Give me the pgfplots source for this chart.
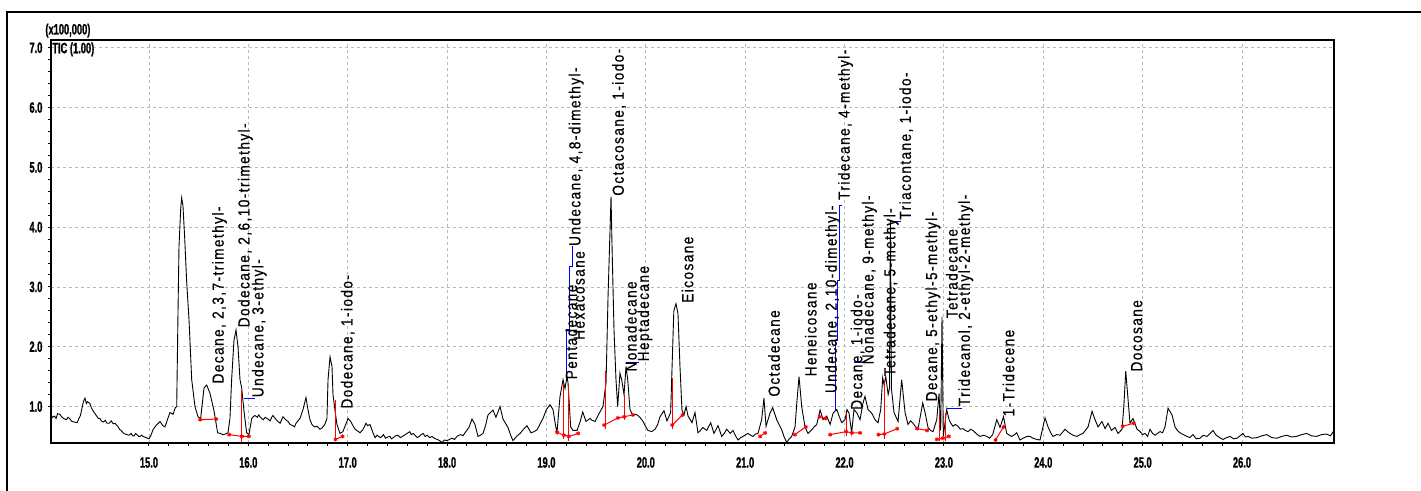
\documentclass[border=0pt]{standalone}
\usepackage{pgfplots}
\usepackage{pgfplotstable}
\pgfplotsset{compat=1.18}
\usepackage{fontspec}
\setmainfont{Liberation Sans}
\newfontfamily\tickfont[FakeStretch=0.62, FakeBold=1]{Liberation Sans}
\newfontfamily\peakfont[LetterSpace=9, FakeStretch=0.85, FakeBold=0.6]{Liberation Sans}

% TIC trace, time (min) vs intensity
\pgfplotstableread{
t      y
14.014 0.86
14.03  0.82
14.05  0.84
14.065 0.80
14.08  0.88
14.104 0.87
14.12  0.83
14.14  0.80
14.17  0.78
14.185 0.82
14.20  0.80
14.225 0.75
14.25  0.74
14.275 0.73
14.29  0.78
14.31  0.85
14.34  1.08
14.356 1.14
14.37  1.05
14.38  1.08
14.406 1.05
14.42  0.98
14.44  0.92
14.47  0.85
14.49  0.80
14.507 0.80
14.52  0.76
14.54  0.74
14.56  0.77
14.577 0.72
14.60  0.72
14.62  0.76
14.64  0.71
14.658 0.72
14.69  0.66
14.708 0.61
14.72  0.60
14.74  0.56
14.76  0.54
14.779 0.53
14.80  0.52
14.82  0.55
14.835 0.51
14.85  0.51
14.865 0.55
14.879 0.53
14.895 0.50
14.91  0.50
14.925 0.52
14.940 0.50
14.97  0.48
15.000 0.46
15.020 0.52
15.040 0.61
15.06  0.66
15.08  0.70
15.095 0.72
15.111 0.75
15.14  0.68
15.161 0.66
15.19  0.80
15.211 0.90
15.242 0.87
15.265 0.98
15.279 1.0
15.292 2.56
15.302 3.67
15.319 4.3
15.329 4.49
15.342 4.36
15.360 3.8
15.379 3.1
15.403 2.45
15.430 1.45
15.463 1.0
15.493 0.83
15.520 0.8
15.554 1.31
15.581 1.36
15.614 1.22
15.654 0.93
15.691 0.56
15.72  0.55
15.745 0.53
15.77  0.54
15.795 0.56
15.815 0.8
15.832 1.45
15.855 2.1
15.876 2.28
15.896 2.0
15.916 1.45
15.933 1.31
15.956 0.93
15.983 0.56
16.006 0.53
16.034 0.8
16.05  0.83
16.067 0.85
16.09  0.82
16.105 0.86
16.117 0.83
16.135 0.80
16.15  0.78
16.17  0.82
16.188 0.8
16.205 0.78
16.22  0.76
16.235 0.82
16.248 0.85
16.27  0.80
16.298 0.75
16.32  0.72
16.335 0.78
16.349 0.83
16.375 0.78
16.399 0.75
16.42  0.70
16.449 0.68
16.465 0.66
16.48  0.72
16.50  0.76
16.520 0.8
16.550 0.95
16.580 1.15
16.600 0.95
16.620 0.78
16.640 0.7
16.665 0.66
16.691 0.67
16.72  0.62
16.741 0.64
16.770 0.7
16.791 0.8
16.802 1.45
16.822 1.83
16.842 1.67
16.852 1.2
16.875 0.9
16.892 0.7
16.922 0.55
16.952 0.58
16.98  0.70
17.003 0.8
17.03  0.75
17.053 0.68
17.07  0.63
17.09  0.60
17.11  0.58
17.124 0.56
17.155 0.62
17.184 0.72
17.20  0.68
17.224 0.7
17.25  0.58
17.275 0.48
17.295 0.52
17.31  0.50
17.33  0.48
17.345 0.5
17.36  0.53
17.38  0.47
17.40  0.49
17.426 0.5
17.44  0.46
17.46  0.48
17.48  0.51
17.506 0.52
17.53  0.48
17.55  0.50
17.58  0.53
17.607 0.56
17.625 0.58
17.64  0.53
17.66  0.55
17.677 0.52
17.70  0.48
17.72  0.50
17.74  0.53
17.758 0.55
17.78  0.50
17.80  0.52
17.825 0.48
17.848 0.5
17.87  0.47
17.90  0.45
17.925 0.43
17.949 0.4
17.975 0.44
17.999 0.43
18.025 0.45
18.05  0.47
18.075 0.45
18.100 0.5
18.12  0.52
18.14  0.53
18.16  0.51
18.180 0.56
18.22  0.65
18.251 0.79
18.281 0.7
18.311 0.5
18.335 0.52
18.362 0.55
18.39  0.70
18.412 0.86
18.462 0.94
18.492 0.82
18.533 1.0
18.563 0.79
18.613 0.65
18.640 0.52
18.663 0.43
18.70  0.50
18.734 0.55
18.77  0.62
18.804 0.68
18.845 0.56
18.875 0.58
18.905 0.61
18.94  0.72
18.965 0.8
19.00  0.95
19.036 1.03
19.066 0.95
19.09  0.70
19.106 0.56
19.136 1.16
19.167 1.45
19.187 1.3
19.207 1.5
19.217 1.4
19.244 0.66
19.267 0.6
19.308 0.6
19.34  0.75
19.365 0.91
19.398 0.75
19.438 0.8
19.46  0.77
19.489 0.75
19.51  0.82
19.529 0.88
19.569 1.0
19.600 1.4
19.620 2.84
19.640 3.95
19.650 4.51
19.660 3.7
19.680 2.28
19.700 1.45
19.717 1.0
19.740 1.56
19.757 1.45
19.781 1.2
19.801 1.67
19.818 1.45
19.841 0.95
19.871 0.85
19.90  0.87
19.922 0.85
19.95  0.80
19.972 0.75
20.000 0.66
20.022 0.6
20.06  0.58
20.093 0.62
20.12  0.70
20.143 0.83
20.183 0.93
20.213 0.76
20.250 0.9
20.282 2.6
20.304 2.72
20.324 2.55
20.344 1.67
20.364 0.94
20.384 0.86
20.405 1.0
20.425 0.84
20.465 0.73
20.495 0.9
20.525 0.56
20.55  0.60
20.573 0.65
20.613 0.6
20.653 0.73
20.686 0.55
20.727 0.68
20.764 0.5
20.79  0.55
20.814 0.62
20.85  0.55
20.878 0.6
20.90  0.52
20.928 0.44
20.955 0.48
20.978 0.5
21.005 0.53
21.029 0.55
21.055 0.52
21.079 0.5
21.105 0.54
21.129 0.55
21.166 0.78
21.189 1.14
21.210 0.67
21.250 0.89
21.277 0.98
21.317 0.78
21.368 0.61
21.39  0.50
21.418 0.4
21.44  0.45
21.468 0.5
21.502 0.66
21.522 1.11
21.542 1.5
21.569 1.0
21.602 0.66
21.632 0.55
21.670 0.61
21.695 0.66
21.720 0.7
21.754 0.94
21.784 0.78
21.821 0.84
21.855 0.7
21.885 0.89
21.922 0.95
21.945 0.84
21.972 0.73
22.005 0.78
22.025 0.95
22.045 0.89
22.072 0.56
22.095 0.95
22.125 0.89
22.156 0.78
22.186 1.06
22.206 1.17
22.236 0.95
22.273 0.89
22.307 0.78
22.337 0.73
22.364 0.95
22.384 1.48
22.398 1.36
22.415 1.5
22.439 1.2
22.452 1.3
22.462 4.1
22.472 1.3
22.498 0.9
22.539 0.75
22.575 1.45
22.609 0.9
22.639 0.7
22.665 0.76
22.689 0.72
22.715 0.66
22.740 0.63
22.787 1.06
22.810 0.9
22.840 0.65
22.865 0.60
22.891 0.58
22.928 0.78
22.951 1.22
22.968 0.6
22.981 2.5
22.994 0.5
23.028 0.95
23.052 0.78
23.07  0.72
23.092 0.67
23.115 0.70
23.142 0.67
23.165 0.62
23.192 0.63
23.215 0.60
23.243 0.58
23.27  0.62
23.293 0.6
23.33  0.54
23.364 0.5
23.40  0.52
23.431 0.5
23.46  0.47
23.491 0.53
23.532 0.78
23.565 0.65
23.600 0.83
23.632 0.55
23.66  0.52
23.683 0.5
23.71  0.53
23.733 0.56
23.766 0.44
23.796 0.47
23.837 0.5
23.867 0.5
23.897 0.47
23.934 0.45
23.967 0.44
24.018 0.81
24.048 0.66
24.075 0.56
24.098 0.5
24.135 0.53
24.169 0.52
24.219 0.62
24.245 0.58
24.269 0.55
24.30  0.52
24.340 0.5
24.37  0.53
24.400 0.55
24.451 0.66
24.491 0.92
24.521 0.78
24.551 0.66
24.591 0.75
24.622 0.63
24.652 0.72
24.686 0.6
24.722 0.65
24.753 0.55
24.793 0.62
24.813 1.06
24.830 1.59
24.843 1.33
24.873 0.72
24.903 0.8
24.944 0.62
24.974 0.58
25.00  0.53
25.024 0.55
25.05  0.50
25.074 0.62
25.10  0.55
25.125 0.52
25.15  0.55
25.175 0.58
25.20  0.56
25.225 0.66
25.256 0.97
25.296 0.86
25.326 0.66
25.35  0.60
25.376 0.56
25.41  0.53
25.447 0.5
25.475 0.48
25.507 0.53
25.54  0.46
25.578 0.47
25.61  0.52
25.648 0.5
25.68  0.55
25.709 0.6
25.735 0.53
25.759 0.5
25.785 0.47
25.809 0.45
25.845 0.48
25.880 0.5
25.915 0.46
25.950 0.47
25.98  0.51
26.010 0.55
26.035 0.49
26.061 0.5
26.10  0.47
26.15  0.48
26.20  0.51
26.25  0.53
26.30  0.48
26.35  0.47
26.40  0.50
26.45  0.52
26.50  0.49
26.55  0.5
26.60  0.53
26.65  0.55
26.70  0.51
26.75  0.5
26.80  0.53
26.85  0.54
26.89  0.51
26.926 0.6
}\trace

\tikzset{pklbl/.style={rotate=90, anchor=west, inner sep=0pt,
    font=\peakfont\fontsize{8}{9}\selectfont},
    intg/.style={red, line width=0.5pt, mark=asterisk, mark size=1pt},
    intv/.style={red, line width=0.5pt, no marks},
    lead/.style={blue, line width=0.5pt, no marks}}
\newcommand{\pk}[3]{\node[pklbl] at (axis cs:#1,#2) {#3};}

\begin{document}
\begin{tikzpicture}
\path[use as bounding box] (0,0) rectangle (710.5pt,-245.5pt);
% outer frame of the printout
\draw[line width=0.75pt] (3.5pt,-246pt) -- (3.5pt,-6pt) -- (711pt,-6pt);

\begin{axis}[
    at={(25.5pt,-221.5pt)}, anchor=south west,
    scale only axis, width=641.5pt, height=201.5pt,
    xmin=14.014, xmax=26.926,
    ymin=0.39, ymax=7.13,
    xtick={15,16,...,26}, minor x tick num=4,
    ytick={1,2,...,7}, minor y tick num=4,
    tick pos=left, tick align=outside,
    major tick length=1.6pt, minor tick length=1.6pt,
    grid=major,
    major grid style={gray!55, dash pattern=on 1.5pt off 1.5pt, line width=0.4pt},
    axis line style={line width=0.9pt},
    every tick/.style={black, line width=0.5pt},
    /pgf/number format/fixed,
    /pgf/number format/fixed zerofill,
    /pgf/number format/precision=1,
    /pgf/number format/assume math mode=true,
    ticklabel style={font=\tickfont\bfseries\fontsize{7.5}{8}\selectfont},
    xticklabel style={inner sep=0pt, yshift=-5.3pt},
    yticklabel style={inner sep=0pt, xshift=-2.5pt},
    clip=false
]

\addplot[black, line width=0.45pt, no marks] table[x=t, y=y] {\trace};

% integration baselines (red)
\addplot[intg] coordinates {(15.515,0.78) (15.676,0.79)};
\addplot[intg] coordinates {(15.807,0.53) (15.935,0.50) (16.006,0.50)};
\addplot[intv] coordinates {(15.935,0.40) (15.935,1.28)};
\addplot[intg] coordinates {(16.877,0.45) (16.948,0.50)};
\addplot[intv] coordinates {(16.877,0.42) (16.877,1.11)};
\addplot[intg] coordinates {(19.107,0.57) (19.175,0.52) (19.225,0.50) (19.319,0.55)};
\addplot[intv] coordinates {(19.175,0.45) (19.175,1.38)};
\addplot[intv] coordinates {(19.225,0.42) (19.225,1.35)};
\addplot[intg] coordinates {(19.581,0.69) (19.719,0.81) (19.783,0.83) (19.871,0.86)};
\addplot[intv] coordinates {(19.59,0.62) (19.59,1.6)};
\addplot[intv] coordinates {(19.783,0.78) (19.783,1.2)};
\addplot[intg] coordinates {(20.266,0.69) (20.37,0.86)};
\addplot[intv] coordinates {(20.266,0.62) (20.266,1.48)};
\addplot[intg] coordinates {(21.15,0.50) (21.20,0.56)};
\addplot[intg] coordinates {(21.50,0.53) (21.61,0.66)};
\addplot[intg] coordinates {(21.75,0.83) (21.81,0.80)};
\addplot[intg] coordinates {(21.855,0.53) (22.015,0.58) (22.075,0.56) (22.156,0.56)};
\addplot[intv] coordinates {(22.015,0.50) (22.015,0.9)};
\addplot[intg] coordinates {(22.34,0.53) (22.40,0.54) (22.53,0.63)};
\addplot[intv] coordinates {(22.40,0.45) (22.40,1.45)};
\addplot[intg] coordinates {(22.73,0.63) (22.83,0.60)};
\addplot[intg] coordinates {(22.93,0.45) (22.99,0.47) (23.05,0.50)};
\addplot[intv] coordinates {(22.96,0.42) (22.96,0.9)};
\addplot[intv] coordinates {(23.02,0.42) (23.02,0.9)};
\addplot[intg] coordinates {(23.52,0.44) (23.60,0.66)};
\addplot[intg] coordinates {(24.80,0.67) (24.91,0.72)};

% label leaders (blue)
\addplot[lead] coordinates {(15.956,1.14) (16.067,1.14)};
\addplot[lead] coordinates {(19.204,1.5) (19.204,2.28) (19.237,2.28) (19.237,3.34) (19.26,3.34) (19.26,3.68)};
\addplot[lead] coordinates {(19.80,1.74) (19.93,1.74)};
\addplot[lead] coordinates {(21.914,0.94) (21.914,2.1) (21.93,2.1) (21.93,3.1) (21.946,3.1) (21.946,4.36) (21.975,4.36)};
\addplot[lead] coordinates {(22.10,1.73) (22.22,1.73)};
\addplot[lead] coordinates {(22.468,4.09) (22.57,4.09)};
\addplot[lead] coordinates {(23.03,0.97) (23.18,0.97)};

% peak names
\pk{15.71}{1.38}{Decane, 2,3,7-trimethyl-}
\pk{15.97}{2.32}{Dodecane, 2,6,10-trimethyl-}
\pk{16.11}{1.15}{Undecane, 3-ethyl-}
\pk{17.00}{0.96}{Dodecane, 1-iodo-}
\pk{19.25}{1.45}{Pentadecane}
\pk{19.33}{2.11}{Hexacosane}
\pk{19.30}{3.68}{Undecane, 4,8-dimethyl-}
\pk{19.73}{4.52}{Octacosane, 1-iodo-}
\pk{19.85}{1.58}{Nonadecane}
\pk{19.99}{1.75}{Heptadecane}
\pk{20.42}{2.73}{Eicosane}
\pk{21.29}{1.16}{Octadecane}
\pk{21.66}{1.50}{Heneicosane}
\pk{21.88}{1.22}{Undecane, 2,10-dimethyl-}
\pk{22.01}{4.45}{Tridecane, 4-methyl-}
\pk{22.13}{0.94}{Decane, 1-iodo-}
\pk{22.25}{1.70}{Nonadecane, 9-methyl-}
\pk{22.47}{1.50}{Tetradecane, 5-methyl-}
\pk{22.62}{4.12}{Triacontane, 1-iodo-}
\pk{22.89}{1.08}{Decane, 5-ethyl-5-methyl-}
\pk{23.08}{2.47}{Tetradecane}
\pk{23.22}{1.00}{Tridecanol, 2-ethyl-2-methyl-}
\pk{23.65}{0.83}{1-Tridecene}
\pk{24.94}{1.58}{Docosane}

\node[anchor=south west, inner sep=0pt, xshift=-3pt, yshift=1pt,
    font=\tickfont\bfseries\fontsize{7.5}{8}\selectfont]
    at (axis description cs:0,1) {(x100,000)};
\node[anchor=north west, inner sep=0pt, xshift=0.5pt, yshift=-1pt,
    font=\tickfont\bfseries\fontsize{7.5}{8}\selectfont]
    at (axis description cs:0,1) {TIC (1.00)};
\end{axis}
\end{tikzpicture}
\end{document}
